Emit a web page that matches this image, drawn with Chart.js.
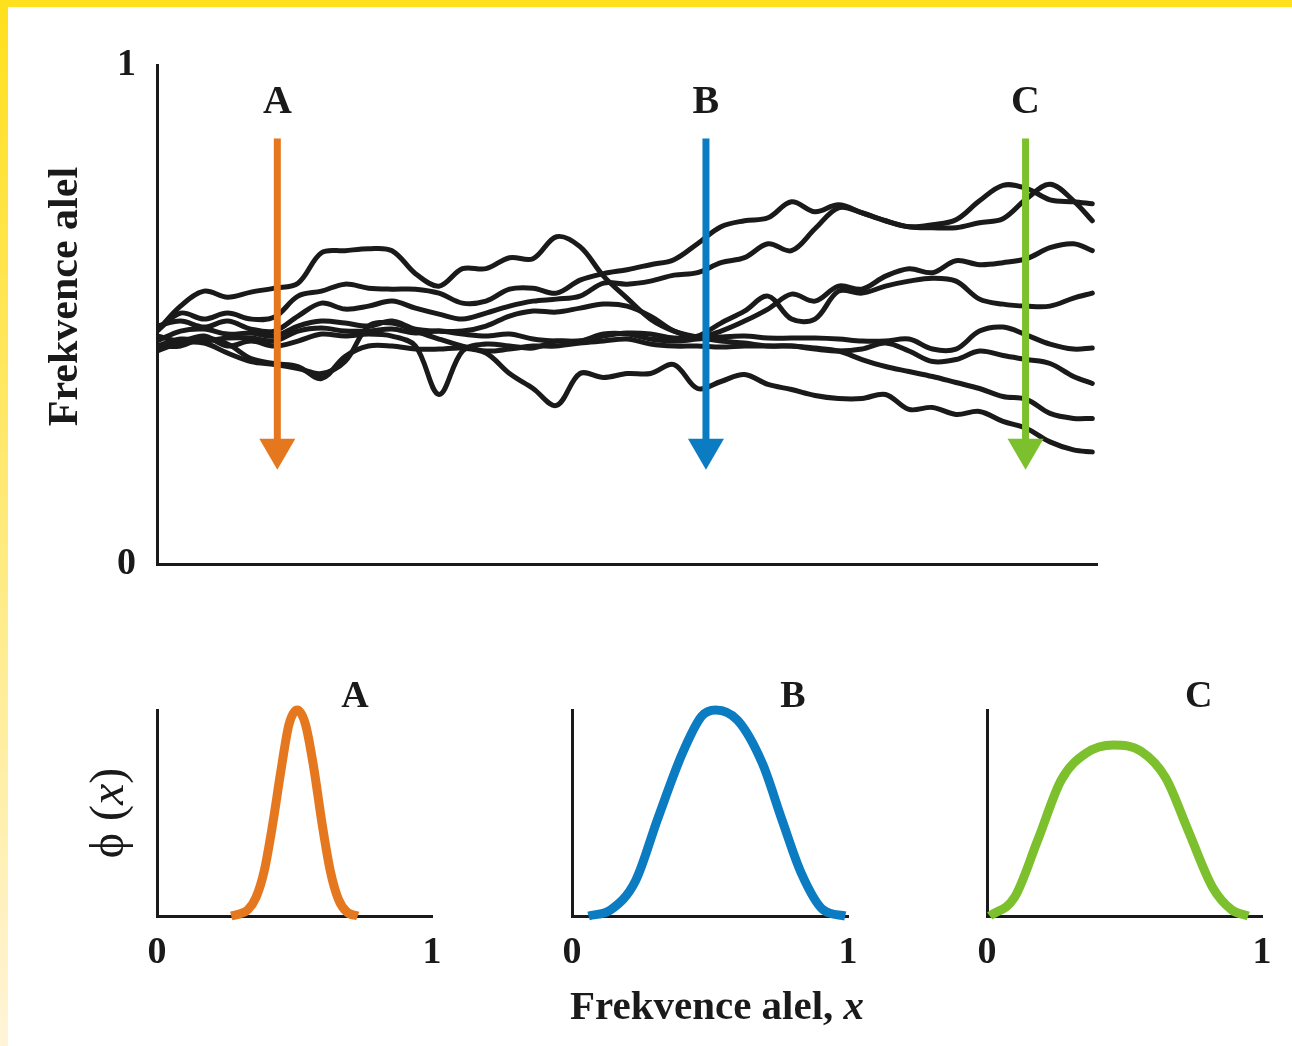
<!DOCTYPE html>
<html>
<head>
<meta charset="utf-8">
<script src="https://cdn.jsdelivr.net/npm/chart.js@4.4.1/dist/chart.umd.min.js"></script>
<style>
  html, body { margin: 0; padding: 0; }
  body { width: 1292px; height: 1046px; position: relative; overflow: hidden; background: #fff; }
  #frameTop { position: absolute; left: 0; top: 0; width: 1292px; height: 7px; background: #ffe01c; }
  #frameLeft { position: absolute; left: 0; top: 0; width: 8px; height: 1046px; background: linear-gradient(#ffe01c, #fff4d8); }
  canvas { position: absolute; }
</style>
</head>
<body>
<div id="frameTop"></div>
<div id="frameLeft"></div>
<canvas id="main" width="1292" height="600" style="left:0;top:0"></canvas>
<canvas id="distA" width="470" height="386" style="left:0;top:660px"></canvas>
<canvas id="distB" width="400" height="386" style="left:480px;top:660px"></canvas>
<canvas id="distC" width="402" height="386" style="left:890px;top:660px"></canvas>
<script>
//****DATA****//

// generations (x) shared by every run
var steps = [0, 2.5, 5, 7.5, 10, 12.5, 15, 17.5, 20, 22.5, 25, 27.5, 30, 32.5, 35, 37.5, 40,
  42.5, 45, 47.5, 50, 52.5, 55, 57.5, 60, 62.5, 65, 67.5, 70, 72.5, 75, 77.5, 80, 82.5, 85,
  87.5, 90, 92.5, 95, 97.5, 99.5];

// allele frequency of each simulated population
var run1 = [0.467, 0.503, 0.491, 0.503, 0.491, 0.495, 0.537, 0.547, 0.561, 0.553, 0.551, 0.551, 0.543, 0.523, 0.527, 0.551, 0.553, 0.543, 0.569, 0.582, 0.590, 0.600, 0.610, 0.642, 0.676, 0.688, 0.694, 0.726, 0.706, 0.720, 0.704, 0.688, 0.676, 0.680, 0.690, 0.728, 0.759, 0.753, 0.730, 0.726, 0.722];
var run2 = [0.477, 0.487, 0.475, 0.487, 0.471, 0.467, 0.497, 0.523, 0.511, 0.517, 0.527, 0.513, 0.501, 0.491, 0.503, 0.517, 0.527, 0.531, 0.537, 0.563, 0.561, 0.567, 0.579, 0.584, 0.604, 0.614, 0.642, 0.628, 0.672, 0.714, 0.704, 0.688, 0.676, 0.674, 0.674, 0.684, 0.692, 0.732, 0.761, 0.728, 0.688];
var run3 = [0.447, 0.467, 0.471, 0.461, 0.463, 0.457, 0.477, 0.487, 0.483, 0.477, 0.487, 0.471, 0.467, 0.467, 0.477, 0.497, 0.507, 0.505, 0.513, 0.521, 0.517, 0.497, 0.467, 0.455, 0.467, 0.487, 0.511, 0.541, 0.527, 0.557, 0.551, 0.577, 0.592, 0.584, 0.608, 0.600, 0.604, 0.612, 0.634, 0.642, 0.628];
var run4 = [0.437, 0.451, 0.447, 0.453, 0.453, 0.447, 0.467, 0.473, 0.467, 0.467, 0.471, 0.463, 0.467, 0.461, 0.457, 0.461, 0.451, 0.447, 0.447, 0.457, 0.463, 0.461, 0.453, 0.457, 0.483, 0.507, 0.537, 0.491, 0.491, 0.547, 0.543, 0.557, 0.567, 0.573, 0.567, 0.531, 0.521, 0.517, 0.517, 0.533, 0.543];
var run5 = [0.457, 0.447, 0.457, 0.437, 0.447, 0.437, 0.447, 0.461, 0.457, 0.461, 0.457, 0.437, 0.340, 0.427, 0.441, 0.437, 0.433, 0.447, 0.447, 0.461, 0.461, 0.451, 0.447, 0.451, 0.455, 0.457, 0.453, 0.453, 0.453, 0.451, 0.447, 0.447, 0.451, 0.431, 0.431, 0.467, 0.475, 0.459, 0.441, 0.431, 0.433];
var run6 = [0.427, 0.443, 0.443, 0.423, 0.406, 0.400, 0.392, 0.382, 0.406, 0.477, 0.483, 0.467, 0.451, 0.437, 0.427, 0.431, 0.437, 0.437, 0.443, 0.447, 0.451, 0.441, 0.437, 0.437, 0.435, 0.437, 0.437, 0.437, 0.431, 0.427, 0.431, 0.443, 0.427, 0.406, 0.410, 0.427, 0.418, 0.410, 0.402, 0.376, 0.362];
var run7 = [0.467, 0.517, 0.547, 0.535, 0.545, 0.553, 0.563, 0.624, 0.628, 0.632, 0.628, 0.582, 0.557, 0.592, 0.592, 0.614, 0.612, 0.656, 0.636, 0.577, 0.533, 0.491, 0.467, 0.455, 0.447, 0.443, 0.437, 0.437, 0.433, 0.427, 0.410, 0.396, 0.386, 0.376, 0.364, 0.352, 0.336, 0.330, 0.302, 0.292, 0.292];
var run8 = [0.437, 0.437, 0.453, 0.441, 0.412, 0.402, 0.396, 0.372, 0.416, 0.437, 0.437, 0.431, 0.431, 0.433, 0.423, 0.382, 0.352, 0.318, 0.382, 0.374, 0.382, 0.382, 0.400, 0.352, 0.366, 0.380, 0.360, 0.350, 0.338, 0.332, 0.332, 0.340, 0.310, 0.314, 0.300, 0.306, 0.286, 0.272, 0.245, 0.229, 0.225];
var runs = [run1, run2, run3, run4, run5, run6, run7, run8];

// cross-sections A, B, C
var sliceNames = ['A', 'B', 'C'];
var sliceAt = [12.8, 58.4, 92.4];
var sliceColors = ['#e5781f', '#0b7cc2', '#7cc12d'];
var arrowTop = 0.853;
var arrowTip = 0.189;
var labelLevel = 0.924;
var yTicks = [0, 1];

// distribution of allele frequency at each cross-section
var distAx = [0.27, 0.30, 0.33, 0.36, 0.39, 0.42, 0.45, 0.48, 0.51, 0.54, 0.57, 0.60, 0.63, 0.66, 0.69, 0.73];
var distAy = [0.0, 0.01, 0.03, 0.09, 0.22, 0.44, 0.70, 0.93, 1.0, 0.93, 0.72, 0.45, 0.22, 0.08, 0.02, 0.0];
var distBx = [0.06, 0.14, 0.23, 0.31, 0.40, 0.47, 0.52, 0.60, 0.69, 0.76, 0.83, 0.91, 0.99];
var distBy = [0.0, 0.03, 0.17, 0.47, 0.79, 0.97, 1.0, 0.95, 0.74, 0.47, 0.21, 0.03, 0.0];
var distCx = [0.01, 0.10, 0.185, 0.27, 0.36, 0.46, 0.56, 0.65, 0.73, 0.82, 0.89, 0.95];
var distCy = [0.0, 0.09, 0.37, 0.66, 0.79, 0.83, 0.80, 0.67, 0.42, 0.14, 0.03, 0.0];
var distTicks = [0, 1];
var distLabelX = [0.72, 0.80, 0.77];
var distLabelY = 1.06;

//****STYLE****//

var serif = '"Liberation Serif", "DejaVu Serif", serif';
var ink = '#1a1a1a';

function pairUp(xs, ys) {
  return xs.map(function (x, i) { return { x: x, y: ys[i] }; });
}

function drawMixed(ctx, parts, cx, cy) {
  var total = 0;
  parts.forEach(function (p) {
    ctx.font = p.font;
    p.w = ctx.measureText(p.text).width;
    total += p.w;
  });
  var x = cx - total / 2;
  ctx.textAlign = 'left';
  ctx.textBaseline = 'middle';
  parts.forEach(function (p) {
    ctx.font = p.font;
    ctx.fillText(p.text, x, cy);
    x += p.w;
  });
}

//****MAIN CHART****//

var arrowPlugin = {
  id: 'arrows',
  afterDatasetsDraw: function (chart) {
    var ctx = chart.ctx;
    var xs = chart.scales.x;
    var ys = chart.scales.y;
    var yTop = ys.getPixelForValue(arrowTop);
    var yTip = ys.getPixelForValue(arrowTip);
    var yLab = ys.getPixelForValue(labelLevel);
    ctx.save();
    sliceNames.forEach(function (name, i) {
      var x = xs.getPixelForValue(sliceAt[i]);
      ctx.strokeStyle = sliceColors[i];
      ctx.fillStyle = sliceColors[i];
      ctx.lineWidth = 7;
      ctx.beginPath();
      ctx.moveTo(x, yTop);
      ctx.lineTo(x, yTip - 28);
      ctx.stroke();
      ctx.beginPath();
      ctx.moveTo(x - 18, yTip - 31);
      ctx.lineTo(x + 18, yTip - 31);
      ctx.lineTo(x, yTip);
      ctx.closePath();
      ctx.fill();
      ctx.fillStyle = ink;
      ctx.font = 'bold 40px ' + serif;
      ctx.textAlign = 'center';
      ctx.textBaseline = 'middle';
      ctx.fillText(name, x, yLab);
    });
    ctx.restore();
  }
};

var sideTitle = {
  id: 'sideTitle',
  afterDraw: function (chart) {
    var ctx = chart.ctx;
    var area = chart.chartArea;
    ctx.save();
    ctx.translate(area.left - 91, (area.top + area.bottom) / 2 - 18);
    ctx.rotate(-Math.PI / 2);
    ctx.fillStyle = ink;
    drawMixed(ctx, [{ text: 'Frekvence alel', font: 'bold 42px ' + serif }], 0, 0);
    ctx.restore();
  }
};

new Chart(document.getElementById('main'), {
  type: 'line',
  data: {
    datasets: runs.map(function (r) {
      return {
        data: pairUp(steps, r),
        borderColor: ink,
        borderWidth: 5,
        tension: 0.35,
        pointRadius: 0,
        fill: false,
        borderCapStyle: 'round',
        borderJoinStyle: 'round'
      };
    })
  },
  options: {
    responsive: false,
    animation: false,
    layout: { padding: { left: 43, top: 65, right: 195, bottom: 21 } },
    plugins: { legend: { display: false }, tooltip: { enabled: false } },
    scales: {
      x: {
        type: 'linear', min: 0, max: 100,
        grid: { display: false },
        border: { display: true, color: ink, width: 3 },
        ticks: { display: false },
        afterFit: function (s) { s.height = 10; }
      },
      y: {
        min: 0, max: 1,
        grid: { display: false },
        border: { display: true, color: ink, width: 3 },
        afterBuildTicks: function (s) { s.ticks = yTicks.map(function (v) { return { value: v }; }); },
        ticks: { padding: 13, color: ink, font: { family: serif, size: 38, weight: 'bold' } },
        afterFit: function (s) { s.width = 114; }
      }
    }
  },
  plugins: [arrowPlugin, sideTitle]
});

//****DISTRIBUTION CHARTS****//

function makeDist(id, xs, ys, i, yWidth, padRight, extra) {
  var letter = {
    id: 'letter' + i,
    afterDraw: function (chart) {
      var ctx = chart.ctx;
      ctx.save();
      ctx.fillStyle = ink;
      ctx.font = 'bold 38px ' + serif;
      ctx.textAlign = 'center';
      ctx.textBaseline = 'middle';
      ctx.fillText(sliceNames[i], chart.scales.x.getPixelForValue(distLabelX[i]), chart.scales.y.getPixelForValue(distLabelY));
      ctx.restore();
    }
  };
  return new Chart(document.getElementById(id), {
    type: 'line',
    data: {
      datasets: [{
        data: pairUp(xs, ys),
        borderColor: sliceColors[i],
        borderWidth: 9,
        cubicInterpolationMode: 'monotone',
        pointRadius: 0,
        fill: false,
        clip: false
      }]
    },
    options: {
      responsive: false,
      animation: false,
      layout: { padding: { left: 20, top: 50, right: padRight, bottom: 0 } },
      plugins: { legend: { display: false }, tooltip: { enabled: false } },
      scales: {
        x: {
          type: 'linear', min: 0, max: 1,
          grid: { display: false },
          border: { display: true, color: ink, width: 3 },
          afterBuildTicks: function (s) { s.ticks = distTicks.map(function (v) { return { value: v }; }); },
          ticks: { padding: 6, maxRotation: 0, color: ink, font: { family: serif, size: 38, weight: 'bold' } },
          afterFit: function (s) { s.height = 130; }
        },
        y: {
          min: 0, max: 1,
          grid: { display: false },
          border: { display: true, color: ink, width: 3 },
          ticks: { display: false },
          afterFit: function (s) { s.width = yWidth; }
        }
      }
    },
    plugins: [letter].concat(extra)
  });
}

var phiTitle = {
  id: 'phiTitle',
  afterDraw: function (chart) {
    var ctx = chart.ctx;
    var area = chart.chartArea;
    ctx.save();
    ctx.translate(area.left - 47, (area.top + area.bottom) / 2);
    ctx.rotate(-Math.PI / 2);
    ctx.fillStyle = ink;
    drawMixed(ctx, [
      { text: '\u03d5 (', font: '48px ' + serif },
      { text: 'x', font: 'italic 48px ' + serif },
      { text: ')', font: '48px ' + serif }
    ], 0, 0);
    ctx.restore();
  }
};

var bottomTitle = {
  id: 'bottomTitle',
  afterDraw: function (chart) {
    var ctx = chart.ctx;
    var area = chart.chartArea;
    ctx.save();
    ctx.fillStyle = ink;
    drawMixed(ctx, [
      { text: 'Frekvence alel, ', font: 'bold 41px ' + serif },
      { text: 'x', font: 'italic bold 41px ' + serif }
    ], (area.left + area.right) / 2 + 7, area.bottom + 92);
    ctx.restore();
  }
};

makeDist('distA', distAx, distAy, 0, 137, 38, [phiTitle]);
makeDist('distB', distBx, distBy, 1, 72, 32, [bottomTitle]);
makeDist('distC', distCx, distCy, 2, 77, 30, []);
</script>
</body>
</html>
